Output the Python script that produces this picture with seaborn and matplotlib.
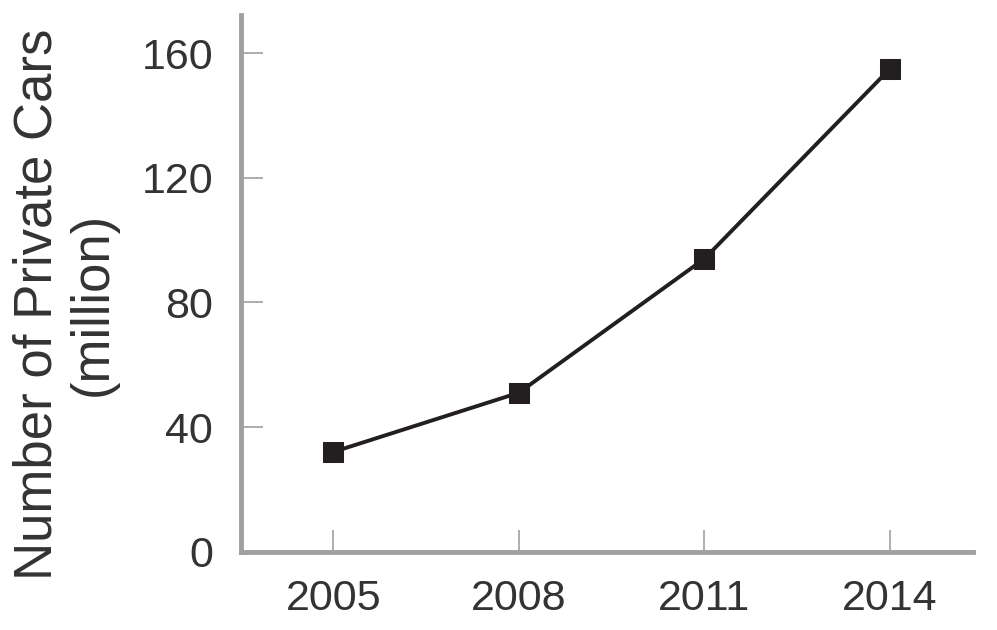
import matplotlib
matplotlib.use("Agg")
import matplotlib.pyplot as plt
import pandas as pd
import seaborn as sns

# data
years = [2005, 2008, 2011, 2014]
cars_million = [32, 51, 94, 155]
y_ticks = [0, 40, 80, 120, 160]

AXIS_GREY = "#a0a0a0"
TEXT = "#333333"
MARK = "#231f20"

sns.set_style("white")
plt.rcParams["font.family"] = ["Liberation Sans", "DejaVu Sans"]

df = pd.DataFrame({"year": years, "cars": cars_million})

fig = plt.figure(figsize=(9.97, 6.3), dpi=100)
ax = fig.add_axes([241 / 997, 1 - 551.7 / 630, (973 - 241) / 997, (551.7 - 15) / 630])

sns.lineplot(data=df, x="year", y="cars", ax=ax, color=MARK, linewidth=2.8,
             marker="s", markersize=14, markeredgecolor=MARK, markerfacecolor=MARK)

ax.set_xlim(2003.51, 2015.34)
ax.set_ylim(0, 172.2)
ax.set_xticks(years)
ax.set_yticks(y_ticks)
ax.set_xlabel("")
ax.set_ylabel("")

for side in ["top", "right"]:
    ax.spines[side].set_visible(False)
for side in ["left", "bottom"]:
    ax.spines[side].set_color(AXIS_GREY)
    ax.spines[side].set_linewidth(3.5)

ax.tick_params(axis="both", direction="in", length=16, width=1.2, color=AXIS_GREY,
               labelsize=31, labelcolor=TEXT, bottom=True, left=True)
ax.tick_params(axis="y", pad=20)
ax.tick_params(axis="x", pad=20)

fig.text(65 / 997, 1 - 304 / 630, "Number of Private Cars\n(million)", rotation=90,
         ha="center", va="center", multialignment="center", fontsize=38, color=TEXT,
         linespacing=1.15)

fig.savefig("out.png", dpi=100)
